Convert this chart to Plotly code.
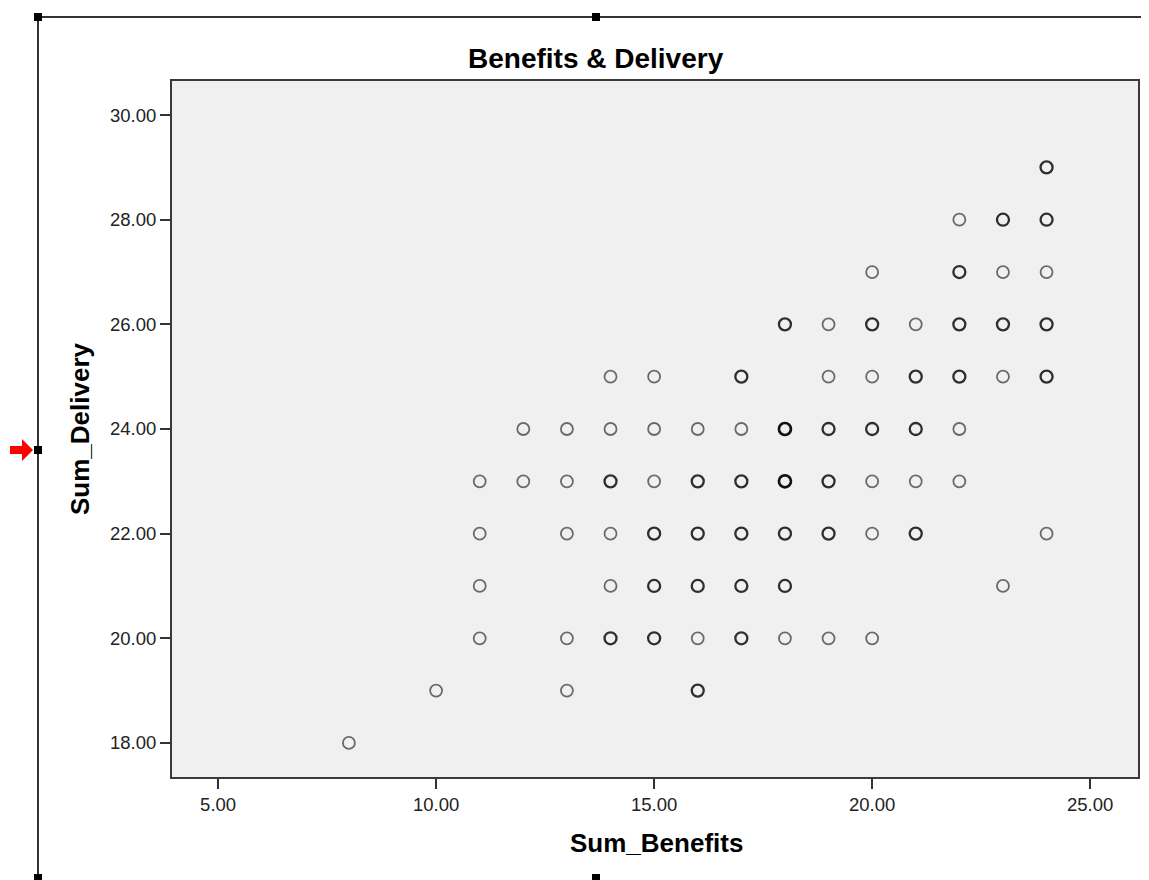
import plotly.graph_objects as go

# Data (x = Sum_Benefits, y = Sum_Delivery, n = overlap darkness level)
sum_benefits = [8, 10,
                11, 11, 11, 11,
                12, 12,
                13, 13, 13, 13, 13,
                14, 14, 14, 14, 14, 14,
                15, 15, 15, 15, 15, 15,
                16, 16, 16, 16, 16, 16,
                17, 17, 17, 17, 17, 17,
                18, 18, 18, 18, 18, 18,
                19, 19, 19, 19, 19, 19,
                20, 20, 20, 20, 20, 20, 20,
                21, 21, 21, 21, 21,
                22, 22, 22, 22, 22, 22,
                23, 23, 23, 23, 23,
                24, 24, 24, 24, 24, 24]
sum_delivery = [18, 19,
                23, 22, 21, 20,
                24, 23,
                24, 23, 22, 20, 19,
                25, 24, 23, 22, 21, 20,
                25, 24, 23, 22, 21, 20,
                24, 23, 22, 21, 20, 19,
                25, 24, 23, 22, 21, 20,
                26, 24, 23, 22, 21, 20,
                26, 25, 24, 23, 22, 20,
                27, 26, 25, 24, 23, 22, 20,
                26, 25, 24, 23, 22,
                28, 27, 26, 25, 24, 23,
                28, 27, 26, 25, 21,
                29, 28, 27, 26, 25, 22]
overlap = [1, 1,
           1, 1, 1, 1,
           1, 1,
           1, 1, 1, 1, 1,
           1, 1, 2, 1, 1, 2,
           1, 1, 1, 2, 2, 2,
           1, 2, 2, 2, 1, 2,
           2, 1, 2, 2, 2, 2,
           2, 3, 3, 2, 2, 1,
           1, 1, 2, 2, 2, 1,
           1, 2, 1, 2, 1, 1, 1,
           1, 2, 2, 1, 2,
           1, 2, 2, 2, 1, 1,
           2, 1, 2, 1, 1,
           2, 2, 1, 2, 2, 1]

x_ticks = [5, 10, 15, 20, 25]
y_ticks = [18, 20, 22, 24, 26, 28, 30]

shade = {1: "#6a6a6a", 2: "#2e2e2e", 3: "#111111"}
widths = {1: 1.8, 2: 2.3, 3: 2.7}

OFF = 8  # page body margin offset
W, H = 1149 - OFF, 880 - OFF
L, R, T, B = 171 - OFF, 1139 - OFF, 80 - OFF, 778 - OFF


def px(x):
    return (x - OFF - L) / (R - L)


def py(y):
    return (B - (y - OFF)) / (B - T)


fig = go.Figure()
fig.add_trace(go.Scatter(
    x=sum_benefits, y=sum_delivery, mode="markers",
    marker=dict(symbol="circle-open", size=12, color=[shade[n] for n in overlap],
                line=dict(width=[widths[n] for n in overlap], color=[shade[n] for n in overlap])),
    hoverinfo="x+y", showlegend=False,
))

shapes = []
# plot-area frame
shapes.append(dict(type="rect", xref="paper", yref="paper", x0=0, x1=1, y0=0, y1=1,
                   line=dict(color="#3a3a3a", width=2), fillcolor="rgba(0,0,0,0)", layer="above"))
# outer chart frame lines (selection frame)
shapes.append(dict(type="line", xref="paper", yref="paper", x0=px(38), x1=px(1149), y0=py(17), y1=py(17),
                   line=dict(color="#333333", width=2)))
shapes.append(dict(type="line", xref="paper", yref="paper", x0=px(38), x1=px(38), y0=py(17), y1=py(880),
                   line=dict(color="#333333", width=2)))
# handles
for hx, hy in [(38, 17), (596, 17), (38, 450), (38, 878), (596, 878)]:
    shapes.append(dict(type="rect", xref="paper", yref="paper",
                       x0=px(hx - 4), x1=px(hx + 4), y0=py(hy + 4), y1=py(hy - 4),
                       line=dict(width=0), fillcolor="#000000"))
# red arrow
ax = [10, 22, 22, 33, 22, 22, 10]
ay = [446, 446, 439, 450, 461, 454, 454]
path = "M " + " L ".join(f"{px(a)},{py(b)}" for a, b in zip(ax, ay)) + " Z"
shapes.append(dict(type="path", xref="paper", yref="paper", path=path,
                   line=dict(width=0), fillcolor="#ff0000"))

fig.update_layout(
    width=W, height=H,
    margin=dict(l=L, r=W - R, t=T, b=H - B, pad=0),
    paper_bgcolor="white", plot_bgcolor="#f0f0f0",
    font=dict(family="Liberation Sans, Arial, sans-serif", color="#222222"),
    shapes=shapes,
    annotations=[
        dict(text="<b>Benefits & Delivery</b>", xref="paper", yref="paper", x=px(596), y=py(58),
             showarrow=False, font=dict(size=28, color="#000000"), xanchor="center", yanchor="middle"),
        dict(text="<b>Sum_Benefits</b>", xref="paper", yref="paper", x=px(656), y=py(843),
             showarrow=False, font=dict(size=26, color="#000000"), xanchor="center", yanchor="middle"),
        dict(text="<b>Sum_Delivery</b>", xref="paper", yref="paper", x=px(80), y=py(429),
             showarrow=False, font=dict(size=26, color="#000000"), textangle=-90,
             xanchor="center", yanchor="middle"),
    ],
    xaxis=dict(range=[3.92, 26.12], tickvals=x_ticks, ticktext=[f"{v:.2f}" for v in x_ticks],
               showgrid=False, zeroline=False, ticks="outside", ticklen=10, tickwidth=2,
               tickcolor="#333333", showline=False, tickfont=dict(size=18.5, color="#222222")),
    yaxis=dict(range=[17.33, 30.67], tickvals=y_ticks, ticktext=[f"{v:.2f}" for v in y_ticks],
               showgrid=False, zeroline=False, ticks="outside", ticklen=10, tickwidth=2,
               tickcolor="#333333", showline=False, tickfont=dict(size=18.5, color="#222222")),
)

fig.write_html("out.html")
